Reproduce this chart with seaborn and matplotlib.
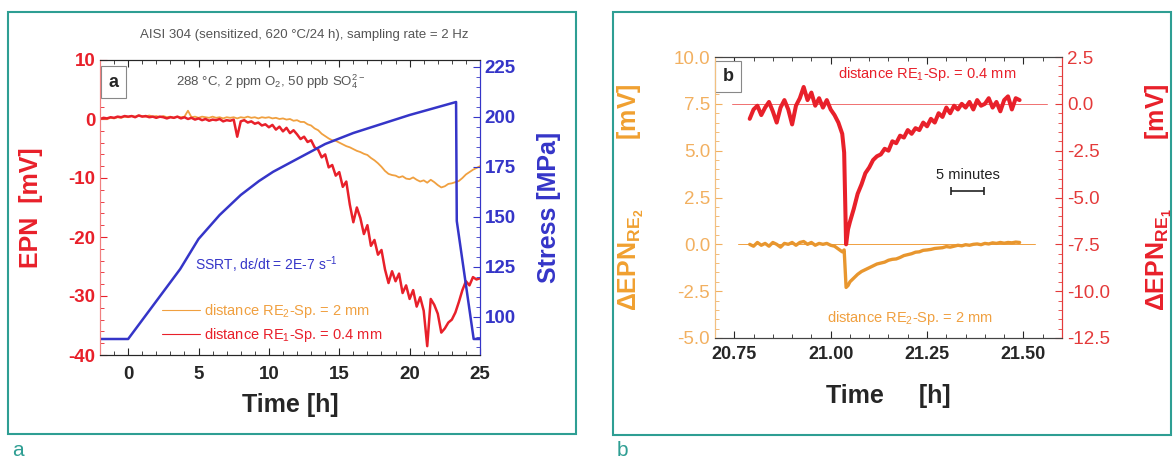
import numpy as np
import pandas as pd
import seaborn as sns
import matplotlib
matplotlib.use("Agg")
import matplotlib.pyplot as plt
from matplotlib.lines import Line2D
from matplotlib.patches import Rectangle
from matplotlib.ticker import MultipleLocator, FormatStrFormatter

# ---------------- data: panel a (long SSRT test) ----------------
# EPN sampled every 0.25 h from -2 h to 25 h (one row per hour)
a_t_start, a_t_step = -2.0, 0.25
epn_re1 = [  # distance RE1-Sp. = 0.4 mm
    0.0, 0.2, 0.1, 0.3,        # -2
    0.2, 0.4, 0.3, 0.5,        # -1
    0.4, 0.5, 0.3, 0.6,        # 0
    0.4, 0.5, 0.3, 0.4,        # 1
    0.2, 0.4, 0.3, 0.1,        # 2
    0.3, 0.2, 0.4, 0.1,        # 3
    0.3, 0.0, 0.2, -0.1,       # 4
    0.1, -0.2, 0.0, -0.3,      # 5
    -0.1, -0.2, 0.0, -0.4,     # 6
    -0.2, -0.3, -0.1, -3.0,    # 7
    -0.4, -0.2, -0.6, -0.4,    # 8
    -0.8, -0.6, -1.1, -0.9,    # 9
    -1.4, -1.0, -1.8, -1.3,    # 10
    -2.1, -1.5, -2.4, -1.9,    # 11
    -2.6, -3.4, -3.0, -3.9,    # 12
    -3.6, -4.8, -5.2, -6.5,    # 13
    -6.0, -8.2, -7.8, -9.6,    # 14
    -9.0, -11.5, -10.6, -14.5, # 15
    -17.5, -15.0, -16.8, -19.5,  # 16
    -18.0, -21.5, -20.5, -23.0,  # 17
    -22.2, -25.5, -27.8, -25.8,  # 18
    -27.5, -26.2, -29.5, -28.2,  # 19
    -30.5, -29.0, -31.8, -30.2,  # 20
    -32.5, -38.5, -30.5, -31.5,  # 21
    -33.0, -36.2, -35.5, -34.5,  # 22
    -34.0, -32.8, -31.0, -29.0,  # 23
    -27.5, -28.2, -26.8, -27.2,  # 24
    -27.0,                       # 25
]
epn_re2 = [  # distance RE2-Sp. = 2 mm
    0.0, 0.1, 0.0, 0.2,        # -2
    0.1, 0.3, 0.2, 0.4,        # -1
    0.3, 0.5, 0.4, 0.6,        # 0
    0.5, 0.4, 0.6, 0.4,        # 1
    0.5, 0.3, 0.5, 0.3,        # 2
    0.4, 0.2, 0.4, 0.3,        # 3
    0.4, 1.4, 0.3, 0.4,        # 4
    0.2, 0.4, 0.3, 0.2,        # 5
    0.4, 0.2, 0.3, 0.1,        # 6
    0.3, 0.2, 0.3, 0.1,        # 7
    0.3, 0.2, 0.4, 0.2,        # 8
    0.3, 0.1, 0.3, 0.2,        # 9
    0.3, 0.1, 0.2, 0.0,        # 10
    0.1, -0.1, 0.0, -0.3,      # 11
    -0.2, -0.5, -0.5, -0.9,    # 12
    -1.1, -1.6, -1.9, -2.5,    # 13
    -2.9, -3.3, -3.6, -3.7,    # 14
    -4.0, -4.3, -4.6, -4.8,    # 15
    -5.1, -5.4, -5.6, -5.9,    # 16
    -6.1, -6.6, -7.0, -7.5,    # 17
    -8.1, -8.8, -9.3, -9.5,    # 18
    -9.6, -9.9, -9.7, -10.1,   # 19
    -10.2, -9.9, -10.3, -10.6, # 20
    -10.4, -10.8, -10.3, -10.7,  # 21
    -11.2, -11.6, -11.4, -11.0,  # 22
    -10.9, -10.7, -10.5, -10.0,  # 23
    -9.4, -9.0, -8.6, -8.3,      # 24
    -8.0,                        # 25
]
# SSRT stress history
stress_t = [-2.0, 0.0, 3.7, 5.0, 6.5, 8.0, 9.3, 10.3, 12.0, 14.0, 16.0, 18.0, 20.0,
            23.3, 23.35, 24.55, 25.0]
stress_mpa = [89, 89, 124, 139, 151, 161, 168, 172.6, 179, 186.5, 192, 196.5, 201,
              207.5, 148, 89, 89]

# ---------------- data: panel b (single transient near 21 h) ----------------
b_t = [20.79, 20.80, 20.81, 20.82, 20.83, 20.84, 20.85, 20.86, 20.87, 20.88,
       20.89, 20.90, 20.91, 20.92, 20.93, 20.94, 20.95, 20.96, 20.97, 20.98,
       20.99, 21.00, 21.01, 21.02, 21.03, 21.035, 21.04, 21.045, 21.05, 21.06,
       21.07, 21.08, 21.09, 21.10, 21.11, 21.12, 21.13, 21.14, 21.15, 21.16,
       21.17, 21.18, 21.19, 21.20, 21.21, 21.22, 21.23, 21.24, 21.25, 21.26,
       21.27, 21.28, 21.29, 21.30, 21.31, 21.32, 21.33, 21.34, 21.35, 21.36,
       21.37, 21.38, 21.39, 21.40, 21.41, 21.42, 21.43, 21.44, 21.45, 21.46,
       21.47, 21.48, 21.49]
d_epn_re1 = [-0.8, -0.3, -0.1, -0.6, -0.2, 0.1, -0.4, -1.0, -0.2, 0.2,
             -0.3, -1.1, -0.1, 0.3, 0.9, 0.2, 0.6, -0.1, 0.3, -0.2,
             0.2, -0.3, -0.6, -1.0, -1.6, -2.6, -7.5, -6.7, -6.3, -5.6,
             -4.8, -4.3, -3.7, -3.4, -3.0, -2.8, -2.7, -2.4, -2.5, -2.0,
             -2.1, -1.7, -1.8, -1.4, -1.6, -1.3, -1.4, -1.0, -1.2, -0.8,
             -1.0, -0.5, -0.7, -0.2, -0.5, -0.1, -0.3, 0.0, -0.2, 0.1,
             -0.3, 0.2, -0.1, 0.0, 0.3, -0.2, 0.1, -0.4, 0.2, 0.4,
             -0.3, 0.3, 0.2]
d_epn_re2 = [0.0, -0.1, 0.1, -0.05, 0.05, -0.1, 0.1, 0.0, -0.15, 0.05,
             0.0, 0.1, -0.05, 0.1, 0.15, 0.0, 0.1, -0.05, 0.05, 0.0,
             0.05, -0.05, -0.1, -0.25, -0.4, -0.3, -2.3, -2.2, -2.0, -1.8,
             -1.6, -1.45, -1.35, -1.25, -1.15, -1.05, -1.0, -0.95, -0.85, -0.8,
             -0.78, -0.7, -0.6, -0.55, -0.5, -0.42, -0.4, -0.32, -0.3, -0.27,
             -0.22, -0.2, -0.18, -0.12, -0.15, -0.1, -0.05, -0.08, -0.02, -0.05,
             0.0, 0.02, -0.02, 0.05, 0.02, 0.08, 0.05, 0.1, 0.06, 0.1,
             0.08, 0.12, 0.1]
b_ref_re1 = ([20.745, 21.56], [0.0, 0.0])
b_ref_re2 = ([20.76, 21.53], [0.0, 0.0])
scale_minutes = 5
scale_center = (21.355, 2.85)

# ---------------- style ----------------
sns.set_style("ticks")
plt.rcParams["font.family"] = ["Liberation Sans", "DejaVu Sans"]
plt.rcParams["mathtext.fontset"] = "custom"
plt.rcParams["mathtext.rm"] = "Liberation Sans"
plt.rcParams["mathtext.it"] = "Liberation Sans:italic"
plt.rcParams["mathtext.bf"] = "Liberation Sans:bold"
plt.rcParams["axes.unicode_minus"] = False

RED = "#e8202a"
ORANGE = "#f0a040"
BLUE = "#3535c8"
TEAL = "#2e9e93"
GREY = "#555555"

W, H = 1173, 459
fig = plt.figure(figsize=(W / 100, H / 100), dpi=100)


def fx(px):
    return px / W


def fy(py):
    return 1 - py / H


# panel frames and captions
fig.add_artist(Rectangle((fx(8), fy(434)), fx(568), 422 / H, transform=fig.transFigure,
                         fill=False, edgecolor=TEAL, lw=1.5))
fig.add_artist(Rectangle((fx(613), fy(435)), fx(1171 - 613), 423 / H, transform=fig.transFigure,
                         fill=False, edgecolor=TEAL, lw=1.5))
fig.text(fx(12), fy(450), "a", color=TEAL, fontsize=15, va="center", ha="left")
fig.text(fx(617), fy(450), "b", color=TEAL, fontsize=15, va="center", ha="left")

# ================= panel a =================
axa = fig.add_axes([fx(100), fy(355), fx(380), 295 / H])
axa2 = axa.twinx()

a_t = a_t_start + a_t_step * np.arange(len(epn_re1))
df_a = pd.DataFrame({"t": a_t, "re1": epn_re1, "re2": epn_re2})
sns.lineplot(data=df_a, x="t", y="re2", ax=axa, color=ORANGE, lw=1.3,
             estimator=None, sort=False)
sns.lineplot(data=df_a, x="t", y="re1", ax=axa, color=RED, lw=1.8,
             estimator=None, sort=False)
sns.lineplot(x=stress_t, y=stress_mpa, ax=axa2, color=BLUE, lw=1.8,
             estimator=None, sort=False)

axa.set_xlim(-2, 25)
axa.set_ylim(-40, 10)
axa2.set_ylim(81, 228.5)
axa.set_xticks([0, 5, 10, 15, 20, 25])
axa.xaxis.set_minor_locator(MultipleLocator(1))
axa.set_yticks([-40, -30, -20, -10, 0, 10])
axa.yaxis.set_minor_locator(MultipleLocator(2))
axa2.set_yticks([100, 125, 150, 175, 200, 225])
axa2.yaxis.set_minor_locator(MultipleLocator(5))

for ax in (axa, axa2):
    ax.tick_params(which="both", direction="in", top=True)
axa.tick_params(axis="x", which="major", length=5, labelsize=13.5, pad=8)
axa.tick_params(axis="x", which="minor", length=3)
axa.tick_params(axis="y", which="both", colors=RED, labelsize=13.5)
axa.tick_params(axis="y", which="major", length=5)
axa.tick_params(axis="y", which="minor", length=3)
axa2.tick_params(axis="y", which="both", colors=BLUE, labelsize=13.5)
axa2.tick_params(axis="y", which="major", length=5)
axa2.tick_params(axis="y", which="minor", length=3)
for lab in axa.get_xticklabels() + axa.get_yticklabels() + axa2.get_yticklabels():
    lab.set_fontweight("bold")

axa.spines["left"].set_color("#f08080")
axa2.spines["left"].set_color("#f08080")
axa2.spines["right"].set_color(BLUE)
axa.spines["right"].set_color(BLUE)

axa.set_xlabel("Time [h]", fontsize=18, fontweight="bold")
axa.xaxis.set_label_coords(0.5, -0.13)
axa.set_ylabel("EPN  [mV]", fontsize=18, fontweight="bold", color=RED)
axa.yaxis.set_label_coords(-0.15, 0.5)
axa2.set_ylabel("Stress [MPa]", fontsize=18, fontweight="bold", color=BLUE)
axa2.yaxis.set_label_coords(1.15, 0.5)

fig.text(fx(304), fy(35), "AISI 304 (sensitized, 620 °C/24 h), sampling rate = 2 Hz",
         fontsize=9.5, color=GREY, ha="center", va="center")
axa.text(0.45, 0.925, r"288 °C, 2 ppm O$_2$, 50 ppb SO$_4^{2-}$", transform=axa.transAxes,
         fontsize=9.5, color=GREY, ha="center", va="center")
axa.text(0.036, 0.925, "a", transform=axa.transAxes, fontsize=13, fontweight="bold",
         ha="center", va="center",
         bbox=dict(boxstyle="square,pad=0.4", fc="white", ec="#888888", lw=0.8))
axa.text(0.437, 0.305, "SSRT, dε/dt = 2E-7 s$^{-1}$", transform=axa.transAxes,
         fontsize=10, color=BLUE, ha="center", va="center")

handles = [Line2D([], [], color=ORANGE, lw=0.8), Line2D([], [], color=RED, lw=0.8)]
labels = [r"distance RE$_2$-Sp. = 2 mm", r"distance RE$_1$-Sp. = 0.4 mm"]
axa.legend(handles, labels, loc="upper left", bbox_to_anchor=(0.14, 0.21), frameon=False,
           fontsize=10.5, labelcolor=[ORANGE, RED], handlelength=2.6, handletextpad=0.3,
           labelspacing=0.45, borderpad=0.1)

# ================= panel b =================
axb = fig.add_axes([fx(715), fy(338), fx(347), 281 / H])
axb2 = axb.twinx()

df_b = pd.DataFrame({"t": b_t, "re1": d_epn_re1, "re2": d_epn_re2})
axb.plot(b_ref_re2[0], b_ref_re2[1], color=ORANGE, lw=0.7)
sns.lineplot(data=df_b, x="t", y="re2", ax=axb, color="#e8962e", lw=2.4,
             estimator=None, sort=False)
axb2.plot(b_ref_re1[0], b_ref_re1[1], color="#f07070", lw=0.7)
sns.lineplot(data=df_b, x="t", y="re1", ax=axb2, color=RED, lw=2.9,
             estimator=None, sort=False)

axb.set_xlim(20.70, 21.60)
axb.set_ylim(-5, 10)
axb2.set_ylim(-12.5, 2.5)
axb.set_xticks([20.75, 21.00, 21.25, 21.50])
axb.xaxis.set_major_formatter(FormatStrFormatter("%.2f"))
axb.xaxis.set_minor_locator(MultipleLocator(0.05))
axb.set_yticks([-5, -2.5, 0, 2.5, 5, 7.5, 10])
axb.yaxis.set_major_formatter(FormatStrFormatter("%.1f"))
axb.yaxis.set_minor_locator(MultipleLocator(0.5))
axb2.set_yticks([-12.5, -10, -7.5, -5, -2.5, 0, 2.5])
axb2.yaxis.set_major_formatter(FormatStrFormatter("%.1f"))
axb2.yaxis.set_minor_locator(MultipleLocator(0.5))

for ax in (axb, axb2):
    ax.tick_params(which="both", direction="in", top=True)
axb.tick_params(axis="x", which="major", length=5, labelsize=13, pad=6)
axb.tick_params(axis="x", which="minor", length=3)
axb.tick_params(axis="y", which="both", colors="#f2b060", labelsize=13.5)
axb.tick_params(axis="y", which="major", length=5)
axb.tick_params(axis="y", which="minor", length=3)
axb2.tick_params(axis="y", which="both", colors="#e43a3a", labelsize=13.5)
axb2.tick_params(axis="y", which="major", length=5)
axb2.tick_params(axis="y", which="minor", length=3)
for lab in axb.get_xticklabels():
    lab.set_fontweight("bold")
for ax in (axb, axb2):
    ax.spines["left"].set_color("#f2c080")
    ax.spines["right"].set_color("#e43a3a")
    ax.spines["top"].set_color("#444444")
    ax.spines["bottom"].set_color("#444444")

axb.set_xlabel("Time     [h]", fontsize=18, fontweight="bold")
axb.xaxis.set_label_coords(0.5, -0.165)
axb.set_ylabel(r"ΔEPN$_{\mathbf{RE}_\mathbf{2}}$          [mV]", fontsize=18,
               fontweight="bold", color="#f0a030")
axb.yaxis.set_label_coords(-0.2, 0.5)
axb2.set_ylabel(r"ΔEPN$_{\mathbf{RE}_\mathbf{1}}$          [mV]", fontsize=18,
                fontweight="bold", color=RED)
axb2.yaxis.set_label_coords(1.235, 0.5)

axb.text(0.037, 0.93, "b", transform=axb.transAxes, fontsize=13, fontweight="bold",
         ha="center", va="center",
         bbox=dict(boxstyle="square,pad=0.4", fc="white", ec="#888888", lw=0.8))
axb.text(0.611, 0.94, r"distance RE$_1$-Sp. = 0.4 mm", transform=axb.transAxes,
         fontsize=10.5, color=RED, ha="center", va="center")
axb.text(0.562, 0.071, r"distance RE$_2$-Sp. = 2 mm", transform=axb.transAxes,
         fontsize=10.5, color=ORANGE, ha="center", va="center")

half = scale_minutes / 60 / 2
axb.errorbar([scale_center[0]], [scale_center[1]], xerr=[half], fmt="none",
             ecolor="#222222", elinewidth=1.2, capsize=3, capthick=1.2)
axb.text(scale_center[0], scale_center[1] + 0.85, f"{scale_minutes} minutes",
         fontsize=10.5, color="#222222", ha="center", va="center")

fig.savefig("out.png", dpi=100)
